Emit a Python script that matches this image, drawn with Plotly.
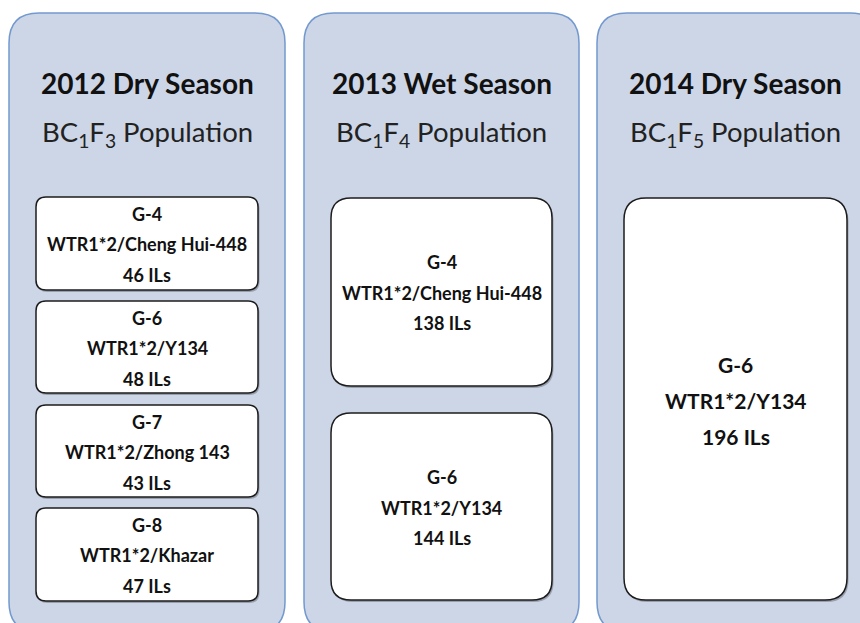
import plotly.graph_objects as go

W, H = 860, 623

# season panels
seasons = ["2012 Dry Season", "2013 Wet Season", "2014 Dry Season"]
populations = ["BC<sub>1</sub>F<sub>3</sub> Population",
               "BC<sub>1</sub>F<sub>4</sub> Population",
               "BC<sub>1</sub>F<sub>5</sub> Population"]

# introgression lines per season
groups_2012 = ["G-4", "G-6", "G-7", "G-8"]
crosses_2012 = ["WTR1*2/Cheng Hui-448", "WTR1*2/Y134", "WTR1*2/Zhong 143", "WTR1*2/Khazar"]
counts_2012 = [46, 48, 43, 47]

groups_2013 = ["G-4", "G-6"]
crosses_2013 = ["WTR1*2/Cheng Hui-448", "WTR1*2/Y134"]
counts_2013 = [138, 144]

groups_2014 = ["G-6"]
crosses_2014 = ["WTR1*2/Y134"]
counts_2014 = [196]

PANEL_FILL = "#cdd6e7"
PANEL_LINE = "#7399cf"
BOX_LINE = "#1c1c1c"
FONT = "Lato, 'Open Sans', sans-serif"


def rounded_path(x0, y0, x1, y1, r):
    return (f"M {x0+r},{y0} L {x1-r},{y0} Q {x1},{y0} {x1},{y0+r} "
            f"L {x1},{y1-r} Q {x1},{y1} {x1-r},{y1} L {x0+r},{y1} "
            f"Q {x0},{y1} {x0},{y1-r} L {x0},{y0+r} Q {x0},{y0} {x0+r},{y0} Z")


fig = go.Figure()
shapes, annotations = [], []

# panel geometry (pixels); the third panel runs off the right edge
panel_x = [(9, 285), (304, 579), (597, 880)]
panel_cx = [147, 441.5, 735.5]
panel_top, panel_bottom = 13, 632

for (px0, px1), cx, season, pop in zip(panel_x, panel_cx, seasons, populations):
    shapes.append(dict(type="path", path=rounded_path(px0, panel_top, px1, panel_bottom, 30),
                       fillcolor=PANEL_FILL, line=dict(color=PANEL_LINE, width=1.5), layer="below"))
    annotations.append(dict(x=cx, y=83, text=f"<b>{season}</b>", showarrow=False,
                            font=dict(size=28, color="#111111", family=FONT)))
    annotations.append(dict(x=cx, y=133, text=pop, showarrow=False,
                            font=dict(size=27.5, color="#222222", family=FONT)))


def add_box(x0, y0, x1, y1, r, lines, ys, size):
    shapes.append(dict(type="path", path=rounded_path(x0 + 1.5, y0 + 2, x1 + 1.5, y1 + 2, r),
                       fillcolor="rgba(0,0,0,0.25)", line=dict(width=0), layer="below"))
    shapes.append(dict(type="path", path=rounded_path(x0, y0, x1, y1, r),
                       fillcolor="white", line=dict(color=BOX_LINE, width=1.5), layer="below"))
    cx = (x0 + x1) / 2
    for t, y in zip(lines, ys):
        annotations.append(dict(x=cx, y=y, text=f"<b>{t}</b>", showarrow=False,
                                font=dict(size=size, color="#111111", family=FONT)))


# 2012 boxes
box_y_2012 = [(197, 290), (301, 393), (405, 497), (508, 601)]
for (y0, y1), g, c, n in zip(box_y_2012, groups_2012, crosses_2012, counts_2012):
    add_box(36, y0, 258, y1, 10, [g, c, f"{n} ILs"],
            [y0 + 17, y0 + 47, y0 + 78], 18)

# 2013 boxes
box_y_2013 = [(198, 386), (413, 600)]
for (y0, y1), g, c, n in zip(box_y_2013, groups_2013, crosses_2013, counts_2013):
    add_box(331, y0, 552, y1, 20, [g, c, f"{n} ILs"],
            [y0 + 64, y0 + 95, y0 + 125], 18)

# 2014 box
for g, c, n in zip(groups_2014, crosses_2014, counts_2014):
    add_box(624, 198, 847, 600, 22, [g, c, f"{n} ILs"], [364, 400, 436], 21)

fig.update_layout(
    width=W, height=H, margin=dict(l=0, r=0, t=0, b=0),
    paper_bgcolor="white", plot_bgcolor="white",
    xaxis=dict(range=[0, W], visible=False, fixedrange=True),
    yaxis=dict(range=[H, 0], visible=False, fixedrange=True),
    shapes=shapes, annotations=annotations, showlegend=False,
)

fig.write_html("out.html", config=dict(displayModeBar=False),
               post_script="document.body.style.margin='0';")
